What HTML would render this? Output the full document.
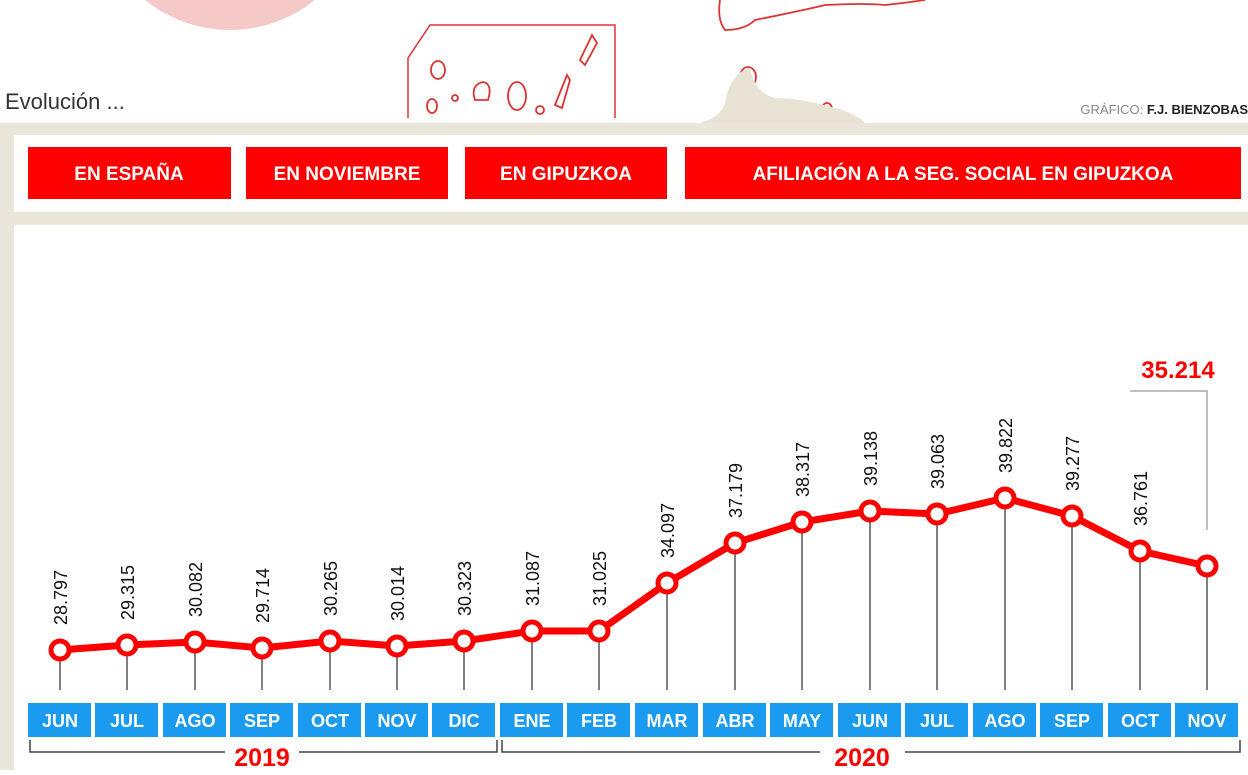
<!DOCTYPE html>
<html><head><meta charset="utf-8"><style>
body{margin:0;width:1248px;height:770px;overflow:hidden;background:#fff;font-family:"Liberation Sans",sans-serif}
</style></head><body>
<svg width="1248" height="770" viewBox="0 0 1248 770" xmlns="http://www.w3.org/2000/svg" font-family="Liberation Sans, sans-serif">
<rect width="1248" height="770" fill="#fff"/>
<circle cx="230" cy="-105" r="135" fill="#f6c9c9"/>
<path d="M408 118 L408 58 L430 25 L615 25 L615 118" fill="none" stroke="#d33" stroke-width="1.5"/>
<g fill="none" stroke="#d33" stroke-width="1.8">
<ellipse cx="438" cy="70" rx="7" ry="9"/><ellipse cx="432" cy="106" rx="5" ry="7"/><circle cx="455" cy="98" r="3"/>
<path d="M475 100 q-5-15 8-18 q10 2 5 18 z"/><ellipse cx="517" cy="96" rx="9" ry="14"/><circle cx="540" cy="110" r="4"/>
<path d="M555 105 l12-30 l3 5 l-8 28 z"/><path d="M580 60 l12-25 l5 8 l-12 22 z"/>
<ellipse cx="748" cy="77" rx="8" ry="10"/><ellipse cx="827" cy="109" rx="5" ry="6"/>
<path d="M720 0 q-3 20 5 30 q20 0 30 -10 q50 -10 70 -15 q40 -2 60 0 q20 -2 40 -5"/>
</g>
<path d="M700 123 q20-5 25-20 q5-30 25-35 q5 25 25 30 q25 0 60 10 q20 5 30 15 z" fill="#e9e3d6"/>
<text x="5" y="109" font-size="22" fill="#333">Evolución ...</text>
<text x="1248" y="114" font-size="13" fill="#888" text-anchor="end">GRÁFICO: <tspan font-weight="bold" fill="#222">F.J. BIENZOBAS</tspan></text>
<rect x="0" y="123" width="1248" height="647" fill="#ebe6da"/>
<rect x="14" y="135" width="1234" height="77" fill="#fff"/>
<rect x="14" y="225" width="1234" height="545" fill="#fff"/>
<g fill="#ff0000"><rect x="28" y="147" width="203" height="52"/><rect x="246" y="147" width="202" height="52"/><rect x="465" y="147" width="202" height="52"/><rect x="685" y="147" width="556" height="52"/></g>
<g fill="#fff" font-weight="bold" font-size="19" text-anchor="middle"><text x="129" y="180">EN ESPAÑA</text><text x="347" y="180">EN NOVIEMBRE</text><text x="566" y="180">EN GIPUZKOA</text><text x="963" y="180">AFILIACIÓN A LA SEG. SOCIAL EN GIPUZKOA</text></g>
<g id="c"></g>
<text x="1178" y="378" font-size="24" font-weight="bold" fill="#f00" text-anchor="middle">35.214</text>
<path d="M1130 391 H1207 V530" fill="none" stroke="#aaa" stroke-width="1.5"/>
<path d="M30 740 V752 H225 M299 752 H497 V740 M502 740 V752 H820 M905 752 H1240 V740" fill="none" stroke="#444" stroke-width="1.5"/>
<text x="262" y="766" font-size="25" font-weight="bold" fill="#f00" text-anchor="middle">2019</text>
<text x="862" y="766" font-size="25" font-weight="bold" fill="#f00" text-anchor="middle">2020</text>
</svg>
<script>
const xs=[60,127,195,262,330,397,464,532,599,667,735,802,870,937,1005,1072,1140,1207];
const ys=[650,645,642,648,641,646,641,631,631,583,543,522,511,514,498,516,551,566];
const v=["28.797","29.315","30.082","29.714","30.265","30.014","30.323","31.087","31.025","34.097","37.179","38.317","39.138","39.063","39.822","39.277","36.761",""];
const m=["JUN","JUL","AGO","SEP","OCT","NOV","DIC","ENE","FEB","MAR","ABR","MAY","JUN","JUL","AGO","SEP","OCT","NOV"];
let s="";
xs.forEach((x,i)=>{s+=`<line x1="${x}" y1="${ys[i]}" x2="${x}" y2="690" stroke="#555" stroke-width="1.5"/>`;
s+=`<rect x="${x-32}" y="703" width="63" height="34" fill="#1a9bf0"/><text x="${x}" y="727" font-size="18" font-weight="bold" fill="#fff" text-anchor="middle">${m[i]}</text>`;
if(v[i])s+=`<text transform="translate(${x+7},${ys[i]-25}) rotate(-90)" font-size="18" fill="#111">${v[i]}</text>`;});
s+=`<polyline points="${xs.map((x,i)=>x+','+ys[i]).join(' ')}" fill="none" stroke="#f00" stroke-width="7" stroke-linejoin="round"/>`;
xs.forEach((x,i)=>{s+=`<circle cx="${x}" cy="${ys[i]}" r="9" fill="#fff" stroke="#f00" stroke-width="5"/>`;});
document.getElementById("c").innerHTML=s;
</script>
</body></html>
